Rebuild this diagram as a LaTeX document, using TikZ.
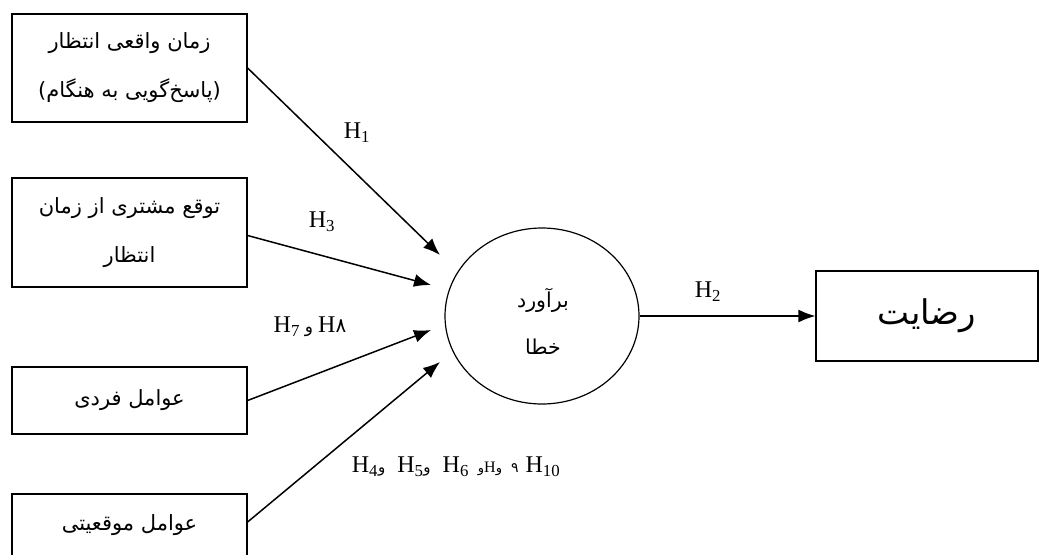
\documentclass[tikz,border=0pt]{standalone}
\usepackage{fontspec}
\setmainfont{Liberation Serif}
\newfontfamily\arabicfont[Script=Arabic]{DejaVu Sans}
\TeXXeTstate=1
\usetikzlibrary{arrows.meta,shapes.geometric}
\newcommand{\fa}[1]{{\arabicfont\beginR #1\endR}}
\begin{document}
\begin{tikzpicture}[x=1pt,y=-1pt,
  srcbox/.style={draw, line width=1.2pt, minimum width=235pt, inner sep=0pt, align=center, font=\fontsize{21}{49}\selectfont},
  arr/.style={line width=1.5pt, -{Latex[length=17pt,width=13pt]}},
  hlab/.style={font=\fontsize{24}{26}\selectfont, inner sep=0pt}]
\useasboundingbox (0,0) rectangle (1040,554);
\node[srcbox, minimum height=108pt] (b1) at (129.5,68) {\fa{زمان واقعی انتظار}\\\fa{(پاسخ‌گویی به هنگام)}};
\node[srcbox, minimum height=109pt] (b2) at (129.5,232.5) {\fa{توقع مشتری از زمان}\\\fa{انتظار}};
\node[srcbox, minimum height=67pt] (b3) at (129.5,400.5) {\fa{عوامل فردی}};
\node[srcbox, minimum height=62pt] (b4) at (129.5,525) {\fa{عوامل موقعیتی}};
\node[draw, line width=1.2pt, ellipse, minimum width=194pt, minimum height=176pt, inner sep=0pt] (e) at (542,316) {};
\node[align=center, font=\fontsize{20.5}{47}\selectfont] (et) at (543,321) {\fa{برآورد}\\\fa{خطا}};
\node[draw, line width=1.2pt, minimum width=222pt, minimum height=90pt, inner sep=0pt, font=\fontsize{34}{36}\selectfont] (r) at (927,316) {\fa{رضایت}};
\coordinate (t1) at (440,255);
\coordinate (t2) at (431,285);
\coordinate (t3) at (431,330);
\coordinate (t4) at (440,362);
\draw[arr] (b1.east) -- (t1);
\draw[arr] (b2.east) ++(0,3) -- (t2);
\draw[arr] (b3.east) -- (t3);
\draw[arr] (b4.east) ++(0,-3) -- (t4);
\draw[arr] (e.east) -- (r.west);
\node[hlab] (h1) at (357,133) {H\textsubscript{1}};
\node[hlab] (h3) at (322,222) {H\textsubscript{3}};
\node[hlab] (h78) at (310,327) {H\textsubscript{7}\hspace{5pt}{\arabicfont\fontsize{17}{18}\selectfont و}\hspace{5pt}H{\arabicfont\fontsize{20}{20}\selectfont ٨}};
\node[hlab] (h2) at (708,292) {H\textsubscript{2}};
\node[hlab] (hb) at (456,467) {H\textsubscript{4}{\arabicfont\fontsize{15}{16}\selectfont و}\hspace{12pt}H\textsubscript{5}{\arabicfont\fontsize{15}{16}\selectfont و}\hspace{12pt}H\textsubscript{6}\hspace{9pt}{\arabicfont\fontsize{13}{14}\selectfont و}{\fontsize{16}{16}\selectfont H}{\arabicfont\fontsize{13}{14}\selectfont و}\hspace{9pt}{\arabicfont\fontsize{14}{14}\selectfont ۹}\hspace{7pt}H\textsubscript{10}};
\end{tikzpicture}
\end{document}
